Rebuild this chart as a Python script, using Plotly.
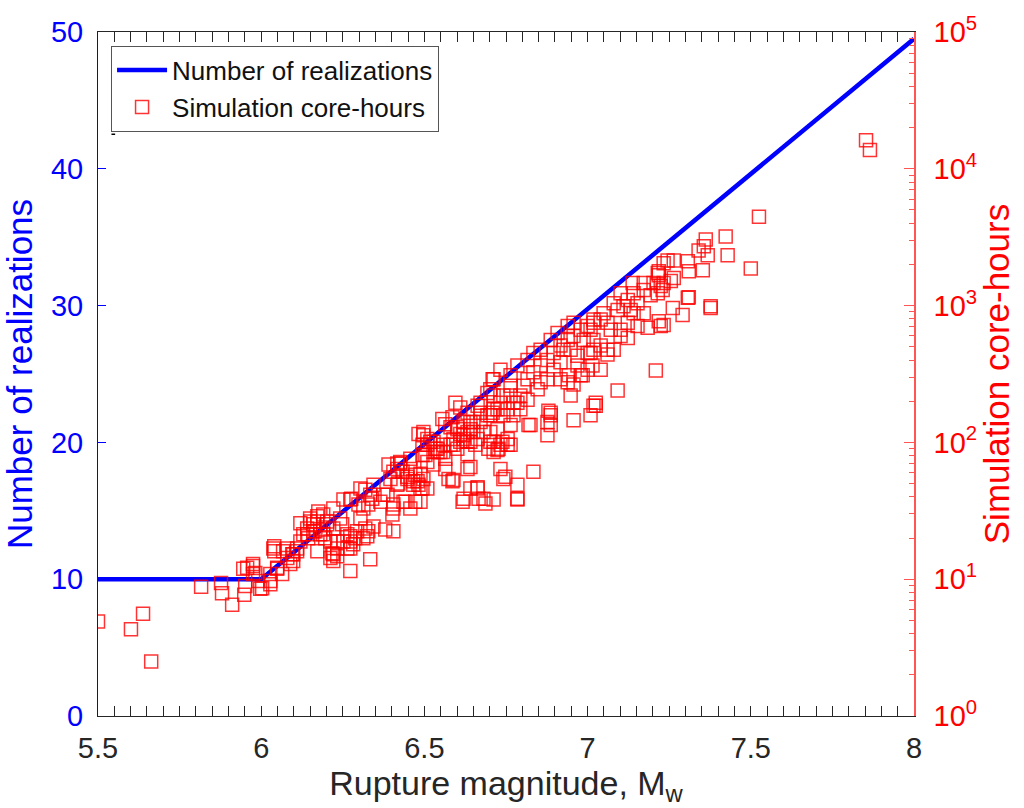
import plotly.graph_objects as go

# ---- data -------------------------------------------------------------
line_mw = [5.5, 6.0, 8.0]
line_realizations = [10, 10, 49.5]

sim_mw = [
    5.500, 5.601, 5.638, 5.663, 5.816, 5.877, 5.880, 5.911, 5.948, 5.951,
    6.003, 5.945, 5.975, 5.975, 5.991, 5.982, 5.997, 6.028, 6.028, 6.049,
    6.064, 6.040, 6.040, 6.067, 6.080, 6.089, 6.098, 6.098, 6.110, 6.120,
    6.129, 6.141, 6.144, 6.150, 6.160, 6.166, 6.172, 6.181, 6.190, 6.202,
    6.196, 6.212, 6.221, 6.233, 6.218, 6.242, 6.248, 6.264, 6.273, 6.273,
    6.288, 6.273, 6.252, 6.273, 6.298, 6.304, 6.313, 6.328, 6.319, 6.334,
    6.325, 6.328, 6.374, 6.380, 6.405, 6.402, 6.405, 6.436, 6.457, 6.472,
    6.396, 6.420, 6.448, 6.466, 6.344, 6.294, 6.273, 6.252, 6.233, 6.221,
    6.313, 6.276, 6.340, 6.304, 6.365, 6.387, 6.417, 6.442, 6.488, 6.494,
    6.466, 6.417, 6.426, 6.457, 6.488, 6.509, 6.528, 6.497, 6.509, 6.494,
    6.528, 6.540, 6.405, 6.172, 6.160, 6.141, 6.120, 6.190, 6.202, 6.221,
    6.233, 6.150, 6.175, 6.190, 6.172, 6.110, 6.095, 6.080, 6.037, 6.049,
    6.028, 5.957, 5.975, 6.212, 6.264, 6.282, 6.221, 6.319, 6.334, 6.344,
    6.390, 6.417, 6.405, 6.433, 6.448, 6.457, 6.472, 6.482, 6.497, 6.509,
    6.482, 6.518, 6.534, 6.549, 6.558, 6.564, 6.586, 6.580, 6.601, 6.610,
    6.620, 6.632, 6.641, 6.650, 6.641, 6.656, 6.601, 6.632, 6.589, 6.641,
    6.663, 6.733, 6.727, 6.755, 6.712, 6.702, 6.709, 6.724, 6.742, 6.764,
    6.773, 6.712, 6.702, 6.709, 6.610, 6.620, 6.595, 6.555, 6.702, 6.742,
    6.663, 6.672, 6.785, 6.620, 6.666, 6.712, 6.589, 6.564, 6.528, 6.503,
    6.494, 6.426, 6.479, 6.488, 6.497, 6.509, 6.540, 6.558, 6.580, 6.589,
    6.601, 6.620, 6.632, 6.650, 6.663, 6.672, 6.693, 6.712, 6.733, 6.755,
    6.773, 6.785, 6.794, 6.804, 6.816, 6.834, 6.856, 6.877, 6.896, 6.917,
    6.939, 6.957, 6.979, 7.000, 7.018, 6.896, 6.917, 6.939, 6.948, 6.979,
    7.000, 7.009, 7.018, 6.877, 6.847, 6.816, 6.794, 6.764, 6.856, 6.887,
    6.877, 6.825, 6.877, 6.957, 7.009, 7.018, 6.834, 6.742, 6.641, 6.586,
    6.681, 6.785, 6.702, 6.712, 6.733, 6.755, 6.764, 6.724, 6.681, 6.641,
    6.632, 6.672, 6.693, 6.712, 6.733, 6.764, 6.785, 6.816, 6.834, 6.856,
    6.887, 6.908, 6.939, 6.957, 7.092, 7.025, 6.887, 6.880, 6.887, 6.819,
    6.785, 6.748, 6.687, 6.663, 6.617, 6.574, 6.564, 6.764, 6.739, 6.724,
    6.696, 6.632, 6.610, 7.525, 7.423, 7.429, 7.500, 7.362, 7.356, 7.340,
    7.368, 7.353, 7.307, 7.310, 7.245, 7.233, 7.264, 7.218, 7.215, 7.264,
    7.255, 7.233, 7.202, 7.172, 7.138, 7.172, 7.193, 7.224, 7.215, 7.141,
    7.153, 7.123, 7.101, 7.080, 7.092, 7.110, 7.132, 7.141, 7.172, 7.184,
    7.153, 7.123, 7.101, 7.049, 7.040, 7.061, 7.071, 7.018, 7.009, 6.988,
    6.926, 6.948, 6.969, 7.000, 7.018, 7.040, 7.061, 7.080, 7.061, 7.123,
    7.101, 7.224, 7.233, 7.261, 7.291, 7.307, 7.377, 7.377, 7.209, 7.040,
    7.015, 6.985, 6.957, 6.942, 7.025, 6.969, 6.917, 7.310, 7.218, 7.230,
    7.218, 7.853, 7.865,
]

sim_core_hours = [
    4.9, 4.3, 5.6, 2.5, 8.8, 9.4, 7.9, 6.5, 7.7, 8.9,
    8.6, 11.9, 12.5, 10.9, 9.7, 11.1, 8.5, 9.2, 10.9, 11.9,
    10.9, 17.4, 16.0, 16.0, 16.8, 12.9, 13.6, 15.2, 16.0, 25.6,
    21.3, 23.5, 19.9, 26.4, 25.2, 22.4, 28.8, 21.3, 23.1, 26.4,
    19.9, 18.9, 32.9, 14.7, 15.5, 27.8, 25.2, 21.3, 18.9, 16.8,
    19.9, 11.5, 38.2, 38.2, 35.1, 46, 32.9, 22.4, 23.5, 14.0,
    20.6, 35.1, 41.5, 23.1, 22.4, 29.7, 32.9, 36.9, 32.9, 36.9,
    54, 50, 54, 52, 24.3, 22.4, 20.6, 18.9, 16.8, 15.2,
    19.9, 38.8, 38.8, 27.8, 36.9, 41.5, 49, 36.9, 36.9, 46,
    49, 64, 72, 76, 59, 72, 69, 113, 96, 81,
    101, 85, 35.1, 26.4, 22.4, 21.3, 18.9, 21.3, 25.2, 23.5,
    18.9, 27.8, 31.3, 29.7, 16.0, 16.8, 15.2, 14.3, 16.8, 12.1,
    9.7, 12.1, 12.9, 14.3, 16.8, 18.0, 13.6, 45, 41.5, 49,
    69, 70, 61, 61, 56, 64, 58, 49, 54, 46,
    115, 101, 90, 85, 96, 136, 153, 129, 129, 115,
    106, 119, 125, 141, 101, 96, 90, 64, 53, 46,
    47, 64, 90, 96, 101, 119, 165, 175, 220, 260,
    195, 220, 245, 290, 180, 141, 195, 148, 158, 158,
    185, 165, 49, 38.8, 38.8, 38.2, 96, 76, 85, 81,
    96, 70, 52, 46, 119, 106, 90, 85, 96, 106,
    125, 113, 101, 119, 106, 141, 158, 175, 195, 175,
    158, 195, 220, 260, 290, 325, 365, 400, 450, 510,
    560, 600, 665, 710, 790, 340, 290, 275, 220, 310,
    340, 450, 560, 290, 245, 205, 175, 220, 275, 165,
    141, 134, 113, 145, 158, 185, 61, 54, 66, 52,
    38.8, 38.8, 101, 85, 96, 106, 134, 125, 119, 141,
    165, 195, 230, 290, 340, 310, 365, 400, 450, 475,
    560, 630, 710, 750, 240, 185, 158, 170, 134, 134,
    38.2, 56, 35.7, 46, 36.9, 54, 64, 96, 101, 88,
    90, 82, 101, 4470, 3200, 2330, 1870, 3040, 2710, 2530,
    2330, 1810, 2110, 1780, 2140, 2040, 2140, 1780, 1730, 1590,
    1510, 1460, 1460, 1460, 1460, 1300, 1190, 1390, 1230, 1230,
    1040, 1100, 1230, 1040, 930, 990, 930, 880, 880, 690,
    710, 750, 665, 880, 790, 750, 665, 750, 665, 560,
    475, 475, 430, 450, 475, 510, 475, 475, 440, 580,
    600, 710, 720, 960, 855, 1140, 990, 960, 335, 340,
    365, 310, 265, 310, 195, 365, 385, 1150, 770, 1300,
    1670, 16200, 13700,
]
assert len(sim_mw) == len(sim_core_hours)

x_ticks = [5.5, 6, 6.5, 7, 7.5, 8]
x_ticklabels = ["5.5", "6", "6.5", "7", "7.5", "8"]
left_ticks = [0, 10, 20, 30, 40, 50]
right_ticks = [1, 10, 100, 1000, 10000, 100000]
right_ticklabels = ["10<sup>0</sup>", "10<sup>1</sup>", "10<sup>2</sup>",
                    "10<sup>3</sup>", "10<sup>4</sup>", "10<sup>5</sup>"]
right_minor = [m * 10 ** e for e in range(0, 5) for m in range(2, 10)]

FONT = "Liberation Sans, Arial, Helvetica, sans-serif"
DARK = "#262626"

# ---- figure -----------------------------------------------------------
fig = go.Figure()
fig.add_trace(go.Scatter(
    x=line_mw, y=line_realizations, mode="lines", name="Number of realizations",
    line=dict(color="#0000ff", width=4.5), yaxis="y",
))
fig.add_trace(go.Scatter(
    x=sim_mw, y=sim_core_hours, mode="markers", name="Simulation core-hours",
    marker=dict(symbol="square-open", size=13, color="rgba(255,0,0,0.8)",
                line=dict(width=1.5)),
    yaxis="y2",
))

# small stray dash visible in the reference, just below the legend
fig.add_shape(type="line", xref="paper", yref="paper",
              x0=0.0165, x1=0.021, y0=0.8505, y1=0.8505,
              line=dict(color="black", width=1.5))

fig.update_layout(
    width=1024, height=808,
    margin=dict(l=98, r=110, t=27, b=92),
    paper_bgcolor="white", plot_bgcolor="white",
    font=dict(family=FONT, color=DARK),
    showlegend=True,
    legend=dict(
        x=0.016, y=0.98, xanchor="left", yanchor="top",
        bgcolor="white", bordercolor="#555555", borderwidth=1,
        font=dict(size=26, color="#111111", family=FONT),
        tracegroupgap=0, itemwidth=50,
    ),
    xaxis=dict(
        range=[5.5, 8], tickmode="array", tickvals=x_ticks, ticktext=x_ticklabels,
        ticks="inside", ticklen=10, tickcolor=DARK, tickwidth=1,
        minor=dict(ticks="inside", dtick=0.05, ticklen=5, tickcolor=DARK),
        showline=True, linecolor=DARK, linewidth=1, mirror="allticks",
        showgrid=False, zeroline=False,
        tickfont=dict(size=29, color=DARK),
        ticklabelstandoff=6,
        title=dict(text="Rupture magnitude, M<sub>w</sub>",
                   font=dict(size=34, color=DARK), standoff=8),
    ),
    yaxis=dict(
        range=[0, 50], tickmode="array", tickvals=left_ticks,
        ticks="inside", ticklen=8, tickcolor="#0000ff",
        showline=True, linecolor="#0000ff", linewidth=1,
        showgrid=False, zeroline=False,
        tickfont=dict(size=29, color="#0000ff"),
        ticklabelstandoff=8,
        title=dict(text="Number of realizations",
                   font=dict(size=35, color="#0000ff"), standoff=8),
    ),
    yaxis2=dict(
        type="log", range=[0, 5], overlaying="y", side="right",
        tickmode="array", tickvals=right_ticks, ticktext=right_ticklabels,
        ticks="inside", ticklen=10, tickcolor="#ff5555",
        minor=dict(ticks="inside", tickmode="array", tickvals=right_minor,
                   ticklen=5, tickcolor="#ff5555"),
        showline=True, linecolor="#ff5555", linewidth=1.5,
        showgrid=False, zeroline=False,
        tickfont=dict(size=29, color="#ff0000"),
        ticklabelstandoff=12,
        title=dict(text="Simulation core-hours",
                   font=dict(size=35, color="#ff0000"), standoff=8),
    ),
)

fig.write_html("out.html")
